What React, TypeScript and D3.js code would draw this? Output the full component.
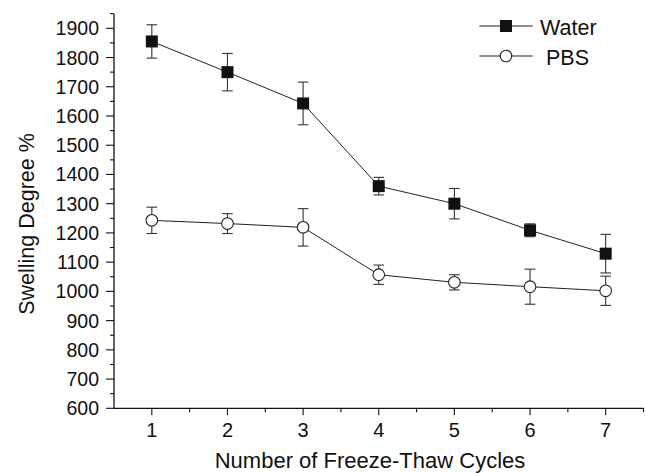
import React, { useEffect, useRef } from "react";
import * as d3 from "d3";

const cycles = [1, 2, 3, 4, 5, 6, 7];
const waterMean = [1855, 1750, 1643, 1360, 1300, 1209, 1129];
const waterErr = [57, 64, 73, 30, 52, 22, 66];
const pbsMean = [1243, 1232, 1219, 1057, 1031, 1016, 1002];
const pbsErr = [45, 34, 64, 33, 26, 60, 50];
const yTicks = [600, 700, 800, 900, 1000, 1100, 1200, 1300, 1400, 1500, 1600, 1700, 1800, 1900];
const yMinor = [650, 750, 850, 950, 1050, 1150, 1250, 1350, 1450, 1550, 1650, 1750, 1850, 1950];
const xMinor = [1.5, 2.5, 3.5, 4.5, 5.5, 6.5, 7.5];
const seriesNames = ["Water", " PBS"];

const FONT = "'Liberation Sans', Arial, Helvetica, sans-serif";

export default function App() {
  const ref = useRef<SVGSVGElement>(null);
  useEffect(() => {
    const svg = d3.select(ref.current);
    svg.selectAll("*").remove();
    const x = d3.scaleLinear().domain([0.5, 7.5]).range([114, 643.5]);
    const y = d3.scaleLinear().domain([600, 1900]).range([408.3, 28.3]);
    const g = svg.append("g");

    // axes lines
    g.append("line").attr("x1", x(0.5)).attr("x2", x(0.5)).attr("y1", y(1950)).attr("y2", y(600))
      .attr("stroke", "#111").attr("stroke-width", 1.3);
    g.append("line").attr("x1", x(0.5)).attr("x2", x(7.5)).attr("y1", y(600)).attr("y2", y(600))
      .attr("stroke", "#111").attr("stroke-width", 1.3);

    // y ticks
    yTicks.forEach((t) => {
      g.append("line").attr("x1", x(0.5) - 8).attr("x2", x(0.5)).attr("y1", y(t)).attr("y2", y(t))
        .attr("stroke", "#111").attr("stroke-width", 1.1);
      g.append("text").attr("x", 99).attr("y", y(t) + 7).attr("text-anchor", "end")
        .attr("font-family", FONT).attr("font-size", 19.5).attr("fill", "#111").text(String(t));
    });
    yMinor.forEach((t) => {
      g.append("line").attr("x1", x(0.5) - 4).attr("x2", x(0.5)).attr("y1", y(t)).attr("y2", y(t))
        .attr("stroke", "#111").attr("stroke-width", 1.1);
    });
    // x ticks
    cycles.forEach((c) => {
      g.append("line").attr("x1", x(c)).attr("x2", x(c)).attr("y1", y(600)).attr("y2", y(600) + 7)
        .attr("stroke", "#111").attr("stroke-width", 1.1);
      g.append("text").attr("x", x(c)).attr("y", 437.3).attr("text-anchor", "middle")
        .attr("font-family", FONT).attr("font-size", 20).attr("fill", "#111").text(String(c));
    });
    xMinor.forEach((c) => {
      g.append("line").attr("x1", x(c)).attr("x2", x(c)).attr("y1", y(600)).attr("y2", y(600) + 4)
        .attr("stroke", "#111").attr("stroke-width", 1.1);
    });

    // axis titles
    g.append("text").attr("x", 370).attr("y", 467.5).attr("text-anchor", "middle")
      .attr("font-family", FONT).attr("font-size", 22).attr("fill", "#111").text("Number of Freeze-Thaw Cycles");
    g.append("text").attr("transform", "translate(33.5,224) rotate(-90)").attr("text-anchor", "middle")
      .attr("font-family", FONT).attr("font-size", 21.5).attr("fill", "#111").text("Swelling Degree %");

    const line = d3.line<number>().x((_, i) => x(cycles[i])).y((d) => y(d));

    const drawSeries = (means: number[], errs: number[], kind: "square" | "circle") => {
      g.append("path").attr("d", line(means) as string).attr("fill", "none")
        .attr("stroke", "#222").attr("stroke-width", 1);
      means.forEach((m, i) => {
        const cx = x(cycles[i]);
        const top = y(m + errs[i]);
        const bot = y(m - errs[i]);
        g.append("line").attr("x1", cx).attr("x2", cx).attr("y1", top).attr("y2", bot)
          .attr("stroke", "#333").attr("stroke-width", 1.1);
        [top, bot].forEach((yy) => {
          g.append("line").attr("x1", cx - 5.3).attr("x2", cx + 5.3).attr("y1", yy).attr("y2", yy)
            .attr("stroke", "#333").attr("stroke-width", 1.1);
        });
      });
      means.forEach((m, i) => {
        const cx = x(cycles[i]);
        const cy = y(m);
        if (kind === "square") {
          g.append("rect").attr("x", cx - 6).attr("y", cy - 6).attr("width", 12).attr("height", 12)
            .attr("fill", "#111");
        } else {
          g.append("circle").attr("cx", cx).attr("cy", cy).attr("r", 5.8)
            .attr("fill", "#fff").attr("stroke", "#222").attr("stroke-width", 1.1);
        }
      });
    };
    drawSeries(waterMean, waterErr, "square");
    drawSeries(pbsMean, pbsErr, "circle");

    // legend
    const legendRows = [
      { name: seriesNames[0], y: 26, kind: "square" },
      { name: seriesNames[1], y: 56, kind: "circle" },
    ];
    legendRows.forEach((r) => {
      g.append("line").attr("x1", 479.3).attr("x2", 532.7).attr("y1", r.y).attr("y2", r.y)
        .attr("stroke", "#222").attr("stroke-width", 1);
      if (r.kind === "square") {
        g.append("rect").attr("x", 506 - 6).attr("y", r.y - 6).attr("width", 12).attr("height", 12).attr("fill", "#111");
      } else {
        g.append("circle").attr("cx", 506).attr("cy", r.y).attr("r", 5.8)
          .attr("fill", "#fff").attr("stroke", "#222").attr("stroke-width", 1.1);
      }
      g.append("text").attr("x", 540).attr("y", r.y + 8.5).attr("font-family", FONT).attr("font-size", 21.5)
        .attr("fill", "#111").attr("xml:space", "preserve").style("white-space", "pre").text(r.name);
    });
  }, []);

  return (
    <svg ref={ref} width={646} height={473}
      style={{ position: "absolute", left: 0, top: 0, background: "#fff", display: "block" }} />
  );
}
